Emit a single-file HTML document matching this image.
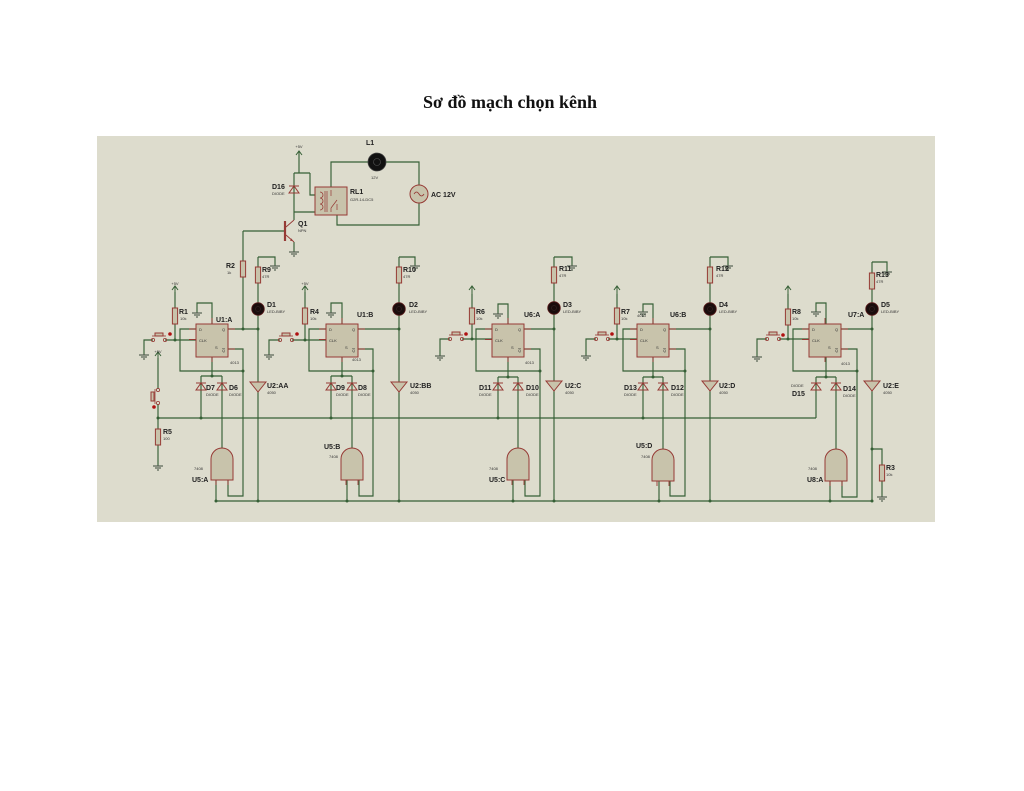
<!DOCTYPE html>
<html><head><meta charset="utf-8"><style>
html,body{margin:0;padding:0;background:#fff;}
body{width:1024px;height:791px;position:relative;overflow:hidden;}
svg{position:absolute;left:0;top:0;}
.w{stroke:#355f35;stroke-width:1.15;fill:none;}
.c{fill:#c8c3ab;stroke:#963a35;stroke-width:1;}
.l{font-family:"Liberation Sans",sans-serif;font-size:7px;font-weight:bold;fill:#222;}
.t{font-family:"Liberation Sans",sans-serif;font-size:4px;fill:#333;}
.n{fill:#355f35;}
</style></head><body>
<svg width="1024" height="791" viewBox="0 0 1024 791" xmlns="http://www.w3.org/2000/svg">
<defs>
<g id="gnd"><path d="M0,0V1 M-5,1H5 M-3,3H3 M-1,5H1" stroke="#3a4a3a" stroke-width="0.9" fill="none"/></g>
<g id="pwr"><path d="M0,0V-8 M-3,-4L0,-8L3,-4" stroke="#355f35" stroke-width="1" fill="none"/></g>
<g id="res"><rect x="-2.6" y="0" width="5.2" height="16" class="c"/></g>
<g id="dio"><path d="M-5,4H5L0,-3Z M-5,-3H5" fill="none" stroke="#963a35" stroke-width="1"/></g>
<g id="led"><circle r="6.3" fill="#1a0c0c" stroke="#5a1a1a" stroke-width="0.8"/><circle r="2.5" fill="none" stroke="#3a2a2a" stroke-width="0.5"/></g>
<g id="buf"><path d="M-8,0H8L0,10Z" class="c"/></g>
<g id="gate"><path d="M-6,32V37 M6,32V37" stroke="#963a35" stroke-width="0.9"/><path d="M-11,32V11A11,11 0 0 1 11,11V32Z" class="c"/></g>
<g id="ff"><path d="M-7,5H0 M-7,15.5H0 M32,5H39 M32,25H39 M16,-6V0 M16,33V38" stroke="#963a35" stroke-width="0.9"/><rect x="0" y="0" width="32" height="33" class="c"/>
<text x="3" y="7" class="t">D</text><text x="26" y="7" class="t">Q</text><text x="3" y="18" class="t">CLK</text><text x="19" y="25" class="t">S</text><text x="26" y="28" class="t">Q</text><path d="M26,24.5H29" stroke="#333" stroke-width="0.4"/></g>
<g id="btn"><circle cx="0" cy="0" r="1.6" fill="none" stroke="#963a35" stroke-width="0.8"/><circle cx="12" cy="0" r="1.6" fill="none" stroke="#963a35" stroke-width="0.8"/><path d="M-1,-4H13" stroke="#963a35" stroke-width="0.8"/><rect x="2" y="-7" width="8" height="3" class="c"/></g>
</defs>

<text x="510" y="108" text-anchor="middle" style="font-family:'Liberation Serif',serif;font-size:18px;font-weight:bold;fill:#111;">Sơ đồ mạch chọn kênh</text>

<rect x="97" y="136" width="838" height="386" fill="#dddccd"/>

<!-- ===== top relay section ===== -->
<path class="w" d="M299,151V173 M294,173H310 M294,173V220 M294,212H317 M310,173V195H317 M243,231H285 M243,231V329 M294,242V251
M331,190V162H368 M386,162H419V185 M419,203V225H337V210"/>
<use href="#pwr" x="299" y="159"/>
<text x="299" y="148" class="t" text-anchor="middle">+5V</text>
<use href="#dio" x="294" y="189"/>
<text x="272" y="189" class="l">D16</text><text x="272" y="195" class="t">DIODE</text>
<rect x="315" y="187" width="32" height="28" class="c"/>
<path d="M320,192 a3,3 0 0 1 0,6 a3,3 0 0 1 0,6 a3,3 0 0 1 0,6" fill="none" stroke="#963a35" stroke-width="0.8"/>
<path d="M325,191V212 M327,191V212 M331,190V196 M337,200L331,208 M337,210V204 M331,208V212" stroke="#963a35" stroke-width="0.7" fill="none"/>
<text x="350" y="194" class="l">RL1</text><text x="350" y="201" class="t">G2R-14-DC5</text>
<circle cx="377" cy="162" r="9" fill="#111" stroke="#444" stroke-width="0.8"/>
<circle cx="377" cy="162" r="3.5" fill="none" stroke="#555" stroke-width="0.6"/>
<text x="366" y="145" class="l">L1</text><text x="371" y="179" class="t">12V</text>
<circle cx="419" cy="194" r="9" class="c"/>
<path d="M414,194 q2.5,-4 5,0 t5,0" fill="none" stroke="#963a35" stroke-width="0.8"/>
<text x="431" y="197" class="l">AC 12V</text>
<path d="M285,221V241" stroke="#963a35" stroke-width="2.2"/>
<path d="M286,227L294,220 M286,235L294,242" stroke="#963a35" stroke-width="0.9" fill="none"/>
<path d="M293,241l-3,-0.3 1.5,-2.3z" fill="#963a35"/>
<use href="#gnd" x="294" y="251"/>
<text x="298" y="226" class="l">Q1</text><text x="298" y="232" class="t">NPN</text>
<use href="#res" x="243" y="261"/>
<text x="226" y="268" class="l">R2</text><text x="227" y="274" class="t">1k</text>

<!-- ===== left switch ===== -->
<path class="w" d="M158,358V389 M158,404V429 M158,445V465 M158,418H816 M216,501H872"/>
<use href="#pwr" x="158" y="360"/>
<text x="158" y="353" class="t" text-anchor="middle">+5V</text>
<circle cx="158" cy="390" r="1.6" fill="none" stroke="#963a35" stroke-width="0.8"/>
<circle cx="158" cy="403" r="1.6" fill="none" stroke="#963a35" stroke-width="0.8"/>
<path d="M155,389V404" stroke="#963a35" stroke-width="0.8"/>
<rect x="151" y="392" width="3" height="9" class="c"/>
<circle cx="154" cy="407" r="1.8" fill="#b01010"/>
<use href="#res" x="158" y="429"/>
<use href="#gnd" x="158" y="465"/>
<text x="163" y="434" class="l">R5</text><text x="163" y="440" class="t">100</text>
<circle cx="158" cy="418" r="1.5" class="n"/>

<!-- ===== block 1 ===== -->
<path class="w" d="M153,340H144V354 M165,340H197 M175,340V324 M175,308V292 M197,329H180V371H243 M212,324V303H197V312 M228,329H258 M228,349H243V496H228V480 M212,357V376 M201,376H222 M201,376V418 M222,376V448 M216,480V501 M258,257H275V265 M258,257V501"/>
<use href="#gnd" x="144" y="354"/><use href="#btn" x="153" y="340"/><circle cx="170" cy="334" r="1.8" fill="#b01010"/>
<use href="#pwr" x="175" y="294"/><text x="175" y="285" class="t" text-anchor="middle">+5V</text>
<use href="#res" x="175" y="308"/><use href="#gnd" x="197" y="312"/>
<use href="#ff" x="196" y="324"/>
<use href="#dio" x="201" y="386"/><use href="#dio" x="222" y="386"/>
<use href="#gate" x="222" y="448"/>
<use href="#res" x="258" y="267"/><use href="#gnd" x="275" y="265"/>
<use href="#led" x="258" y="309"/><use href="#buf" x="258" y="382"/>
<g class="n"><circle cx="175" cy="340" r="1.5"/><circle cx="243" cy="329" r="1.5"/><circle cx="258" cy="329" r="1.5"/><circle cx="243" cy="371" r="1.5"/><circle cx="212" cy="376" r="1.5"/><circle cx="201" cy="418" r="1.5"/><circle cx="216" cy="501" r="1.5"/><circle cx="258" cy="501" r="1.5"/></g>
<text x="179" y="314" class="l">R1</text><text x="180" y="320" class="t">10k</text>
<text x="216" y="322" class="l">U1:A</text><text x="230" y="364" class="t">4013</text>
<text x="206" y="390" class="l">D7</text><text x="206" y="396" class="t">DIODE</text>
<text x="229" y="390" class="l">D6</text><text x="229" y="396" class="t">DIODE</text>
<text x="267" y="388" class="l">U2:AA</text><text x="267" y="394" class="t">4050</text>
<text x="267" y="307" class="l">D1</text><text x="267" y="313" class="t">LED-BIBY</text>
<text x="262" y="272" class="l">R9</text><text x="262" y="278" class="t">47R</text>
<text x="194" y="470" class="t">7408</text><text x="192" y="482" class="l">U5:A</text>

<!-- ===== block 2 ===== -->
<path class="w" d="M280,340H269V354 M292,340H326 M305,340V324 M305,308V292 M326,329H309V371H373 M342,324V303H331V312 M358,329H399 M358,349H373V496H359V480 M342,357V376 M331,376H352 M331,376V418 M352,376V448 M347,480V501 M399,257H415V265 M399,257V501"/>
<use href="#gnd" x="269" y="354"/><use href="#btn" x="280" y="340"/><circle cx="297" cy="334" r="1.8" fill="#b01010"/>
<use href="#pwr" x="305" y="294"/><text x="305" y="285" class="t" text-anchor="middle">+5V</text>
<use href="#res" x="305" y="308"/><use href="#gnd" x="331" y="312"/>
<use href="#ff" x="326" y="324"/>
<use href="#dio" x="331" y="386"/><use href="#dio" x="352" y="386"/>
<use href="#gate" x="352" y="448"/>
<use href="#res" x="399" y="267"/><use href="#gnd" x="415" y="265"/>
<use href="#led" x="399" y="309"/><use href="#buf" x="399" y="382"/>
<g class="n"><circle cx="305" cy="340" r="1.5"/><circle cx="399" cy="329" r="1.5"/><circle cx="373" cy="371" r="1.5"/><circle cx="342" cy="376" r="1.5"/><circle cx="331" cy="418" r="1.5"/><circle cx="347" cy="501" r="1.5"/><circle cx="399" cy="501" r="1.5"/></g>
<text x="310" y="314" class="l">R4</text><text x="310" y="320" class="t">10k</text>
<text x="357" y="317" class="l">U1:B</text><text x="352" y="361" class="t">4013</text>
<text x="336" y="390" class="l">D9</text><text x="336" y="396" class="t">DIODE</text>
<text x="358" y="390" class="l">D8</text><text x="358" y="396" class="t">DIODE</text>
<text x="410" y="388" class="l">U2:BB</text><text x="410" y="394" class="t">4050</text>
<text x="409" y="307" class="l">D2</text><text x="409" y="313" class="t">LED-BIBY</text>
<text x="403" y="272" class="l">R10</text><text x="403" y="278" class="t">47R</text>
<text x="324" y="449" class="l">U5:B</text><text x="329" y="458" class="t">7408</text>

<!-- ===== block 3 ===== -->
<path class="w" d="M450,339H440V355 M462,339H492 M472,339V324 M472,308V294 M492,329H476V371H540 M508,324V304H498V313 M524,329H554 M524,349H540V496H525V480 M508,357V377 M498,377H518 M498,377V418 M518,377V448 M513,480V501 M554,257H572V265 M554,257V501"/>
<use href="#gnd" x="440" y="355"/><use href="#btn" x="450" y="339"/><circle cx="466" cy="334" r="1.8" fill="#b01010"/>
<use href="#pwr" x="472" y="294"/>
<use href="#res" x="472" y="308"/><use href="#gnd" x="498" y="313"/>
<use href="#ff" x="492" y="324"/>
<use href="#dio" x="498" y="386"/><use href="#dio" x="518" y="386"/>
<use href="#gate" x="518" y="448"/>
<use href="#res" x="554" y="267"/><use href="#gnd" x="572" y="265"/>
<use href="#led" x="554" y="308"/><use href="#buf" x="554" y="381"/>
<g class="n"><circle cx="472" cy="339" r="1.5"/><circle cx="554" cy="329" r="1.5"/><circle cx="540" cy="371" r="1.5"/><circle cx="508" cy="377" r="1.5"/><circle cx="498" cy="418" r="1.5"/><circle cx="513" cy="501" r="1.5"/><circle cx="554" cy="501" r="1.5"/></g>
<text x="476" y="314" class="l">R6</text><text x="476" y="320" class="t">10k</text>
<text x="524" y="317" class="l">U6:A</text><text x="525" y="364" class="t">4013</text>
<text x="479" y="390" class="l">D11</text><text x="479" y="396" class="t">DIODE</text>
<text x="526" y="390" class="l">D10</text><text x="526" y="396" class="t">DIODE</text>
<text x="565" y="388" class="l">U2:C</text><text x="565" y="394" class="t">4050</text>
<text x="563" y="307" class="l">D3</text><text x="563" y="313" class="t">LED-BIBY</text>
<text x="559" y="271" class="l">R11</text><text x="559" y="277" class="t">47R</text>
<text x="489" y="470" class="t">7408</text><text x="489" y="482" class="l">U5:C</text>

<!-- ===== block 4 ===== -->
<path class="w" d="M596,339H586V355 M608,339H637 M617,339V324 M617,308V294 M637,329H623V371H685 M653,324V304H643V311 M669,329H710 M669,349H685V496H670V481 M653,357V377 M643,377H663 M643,377V418 M663,377V449 M659,481V501 M710,257H728V265 M710,257V501"/>
<use href="#gnd" x="586" y="355"/><use href="#btn" x="596" y="339"/><circle cx="612" cy="334" r="1.8" fill="#b01010"/>
<use href="#pwr" x="617" y="294"/>
<use href="#res" x="617" y="308"/><use href="#gnd" x="643" y="311"/>
<use href="#ff" x="637" y="324"/>
<use href="#dio" x="643" y="386"/><use href="#dio" x="663" y="386"/>
<use href="#gate" x="663" y="449"/>
<use href="#res" x="710" y="267"/><use href="#gnd" x="728" y="265"/>
<use href="#led" x="710" y="309"/><use href="#buf" x="710" y="381"/>
<g class="n"><circle cx="617" cy="339" r="1.5"/><circle cx="710" cy="329" r="1.5"/><circle cx="685" cy="371" r="1.5"/><circle cx="653" cy="377" r="1.5"/><circle cx="643" cy="418" r="1.5"/><circle cx="659" cy="501" r="1.5"/><circle cx="710" cy="501" r="1.5"/></g>
<text x="621" y="314" class="l">R7</text><text x="621" y="320" class="t">10k</text>
<text x="637" y="317" class="t">4013</text>
<text x="670" y="317" class="l">U6:B</text>
<text x="624" y="390" class="l">D13</text><text x="624" y="396" class="t">DIODE</text>
<text x="671" y="390" class="l">D12</text><text x="671" y="396" class="t">DIODE</text>
<text x="719" y="388" class="l">U2:D</text><text x="719" y="394" class="t">4050</text>
<text x="719" y="307" class="l">D4</text><text x="719" y="313" class="t">LED-BIBY</text>
<text x="716" y="271" class="l">R12</text><text x="716" y="277" class="t">47R</text>
<text x="636" y="448" class="l">U5:D</text><text x="641" y="458" class="t">7408</text>

<!-- ===== block 5 ===== -->
<path class="w" d="M767,339H757V356 M779,339H809 M788,339V325 M788,309V294 M809,329H793V371H857 M826,324V303H816V311 M841,329H872 M841,349H857V497H842V481 M826,357V377 M816,377H836 M816,377V418 M836,377V449 M830,481V501 M872,262H887V271 M872,262V501 M872,449H882V465 M882,481V496"/>
<use href="#gnd" x="757" y="356"/><use href="#btn" x="767" y="339"/><circle cx="783" cy="335" r="1.8" fill="#b01010"/>
<use href="#pwr" x="788" y="294"/>
<use href="#res" x="788" y="309"/><use href="#gnd" x="816" y="311"/>
<use href="#ff" x="809" y="324"/>
<use href="#dio" x="816" y="386"/><use href="#dio" x="836" y="386"/>
<use href="#gate" x="836" y="449"/>
<use href="#res" x="872" y="273"/><use href="#gnd" x="887" y="271"/>
<use href="#led" x="872" y="309"/><use href="#buf" x="872" y="381"/>
<use href="#res" x="882" y="465"/><use href="#gnd" x="882" y="496"/>
<g class="n"><circle cx="788" cy="339" r="1.5"/><circle cx="872" cy="329" r="1.5"/><circle cx="857" cy="371" r="1.5"/><circle cx="826" cy="377" r="1.5"/><circle cx="830" cy="501" r="1.5"/><circle cx="872" cy="501" r="1.5"/><circle cx="872" cy="449" r="1.5"/></g>
<text x="792" y="314" class="l">R8</text><text x="792" y="320" class="t">10k</text>
<text x="848" y="317" class="l">U7:A</text><text x="841" y="365" class="t">4013</text>
<text x="791" y="387" class="t">DIODE</text><text x="792" y="396" class="l">D15</text>
<text x="843" y="391" class="l">D14</text><text x="843" y="397" class="t">DIODE</text>
<text x="883" y="388" class="l">U2:E</text><text x="883" y="394" class="t">4050</text>
<text x="881" y="307" class="l">D5</text><text x="881" y="313" class="t">LED-BIBY</text>
<text x="876" y="277" class="l">R13</text><text x="876" y="283" class="t">47R</text>
<text x="886" y="470" class="l">R3</text><text x="886" y="476" class="t">10k</text>
<text x="808" y="470" class="t">7408</text><text x="807" y="482" class="l">U8:A</text>
</svg>
</body></html>
